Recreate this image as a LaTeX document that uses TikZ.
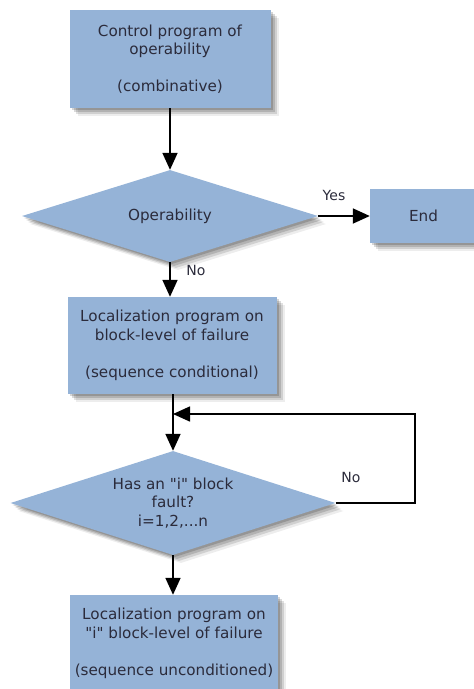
\documentclass[tikz,border=0pt]{standalone}
\usepackage{fontspec}
\setmainfont{DejaVu Sans}[Ligatures=TeXOff]
\usetikzlibrary{shapes.geometric,arrows.meta,shadows}
\definecolor{boxblue}{HTML}{95B3D7}
\definecolor{txt}{HTML}{2B2B3B}
\tikzset{
  softshadow/.style={
    drop shadow={shadow xshift=2pt, shadow yshift=-2pt, fill=black, opacity=0.16},
    drop shadow={shadow xshift=4pt, shadow yshift=-4pt, fill=black, opacity=0.15},
    drop shadow={shadow xshift=6pt, shadow yshift=-6pt, fill=black, opacity=0.12},
    drop shadow={shadow xshift=8pt, shadow yshift=-8pt, fill=black, opacity=0.07}},
  box/.style={rectangle, draw=none, fill=boxblue, inner sep=0pt, align=center, text=txt,
    font=\fontsize{15.2}{18.5}\selectfont, softshadow},
  dec/.style={diamond, draw=none, fill=boxblue, inner sep=0pt, align=center, text=txt, aspect=3,
    font=\fontsize{15.2}{18.5}\selectfont, softshadow},
  arr/.style={line width=1.8pt, -{Triangle[length=17pt,width=15pt]}},
  lbl/.style={text=txt, font=\fontsize{14}{16}\selectfont, inner sep=0pt}
}
\begin{document}
\begin{tikzpicture}[x=1pt,y=-1pt]
\useasboundingbox (0,0) rectangle (474,689);
\clip (0,0) rectangle (474,689);
\node[box, minimum width=201pt, minimum height=98pt] (b1) at (170,59)
  {Control program of\\operability\\[18.5pt](combinative)};
\node[dec, minimum width=296pt, minimum height=92pt] (d1) at (170,216) {Operability};
\node[box, minimum width=107pt, minimum height=54pt] (end) at (423.5,216) {End};
\node[box, minimum width=209pt, minimum height=97pt] (b2) at (172,345.5)
  {Localization program on\\block-level of failure\\[18.5pt](sequence conditional)};
\node[dec, minimum width=325pt, minimum height=104pt] (d2) at (173,503)
  {Has an "i" block\\fault?\\i=1,2,...n};
\node[box, minimum width=208pt, minimum height=97pt] (b3) at (174,643.5)
  {Localization program on\\"i" block-level of failure\\[18.5pt](sequence unconditioned)};
\coordinate (c) at (415,414);
\coordinate (j) at (173,414);
\draw[arr] (b1.south) -- (d1.north);
\draw[arr] (d1.east) -- (end.west);
\draw[arr] (d1.south) -- (d1.south |- b2.north);
\draw[arr] (b2.south -| d2.north) -- (d2.north);
\draw[arr, line width=1.5pt] (d2.east) -| (c) -- (j);
\draw[arr] (d2.south) -- (d2.south |- b3.north);
\node[lbl] (yes) at (334,195) {Yes};
\node[lbl] (no1) at (196,270) {No};
\node[lbl] (no2) at (351,477) {No};
\end{tikzpicture}
\end{document}
